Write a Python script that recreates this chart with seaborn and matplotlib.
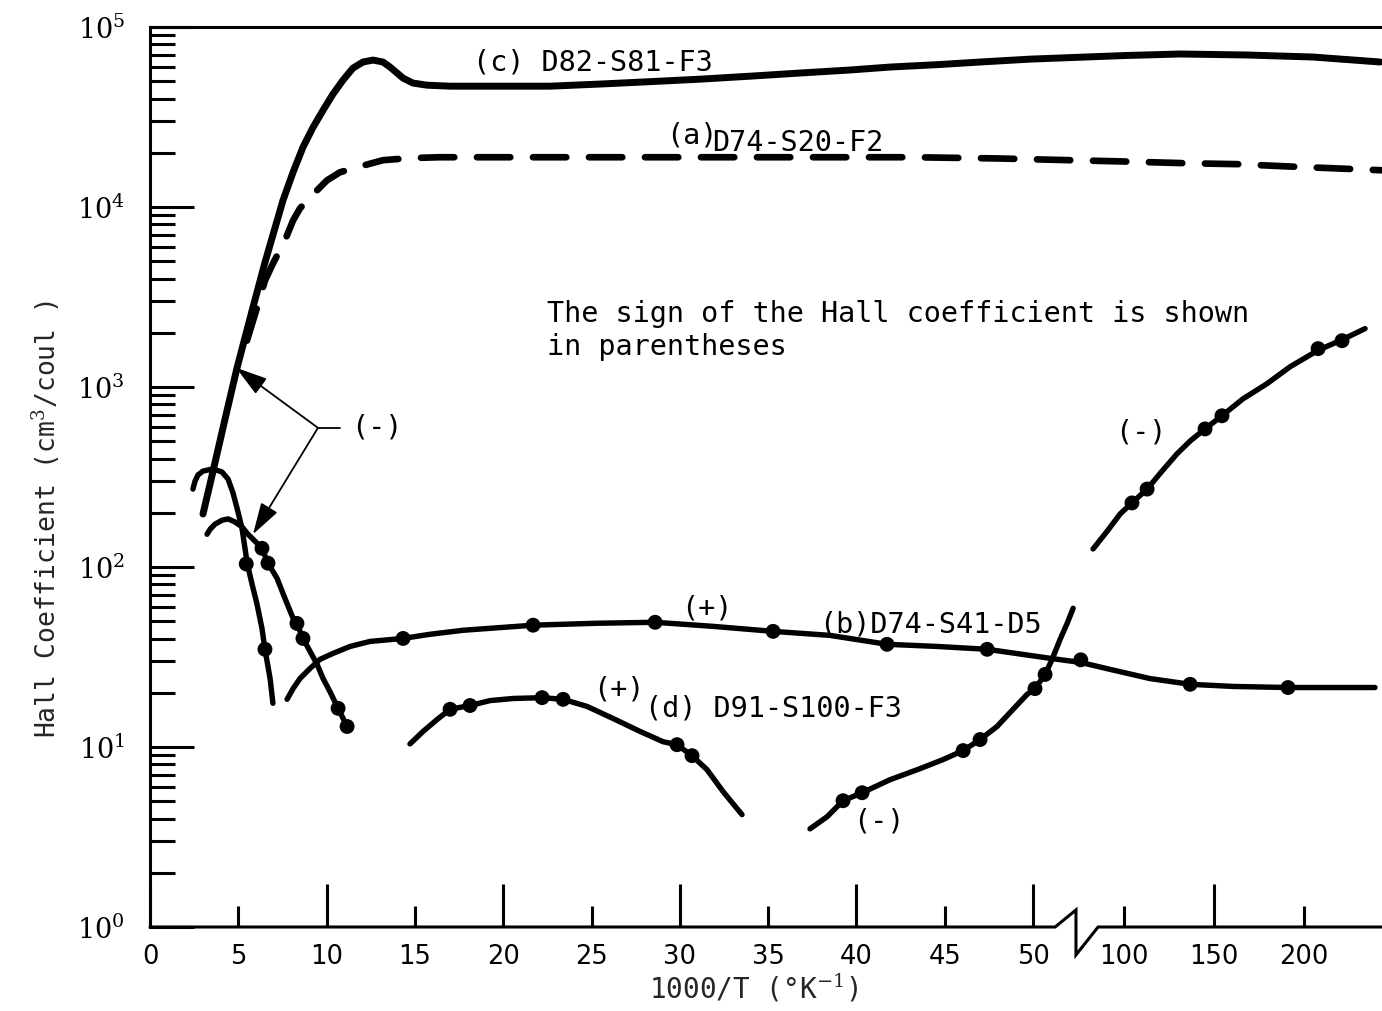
import numpy as np
import matplotlib
matplotlib.use("Agg")
import matplotlib.pyplot as plt
from matplotlib import ticker
from matplotlib.transforms import blended_transform_factory
import seaborn as sns

# ---- Hall coefficient vs 1000/T ----
# (c) D82-S81-F3, solid, no data points
c_x = [3.0, 3.57, 4.25, 4.93, 5.78, 6.51, 7.53, 8.10, 8.66, 9.23, 9.80, 10.36,
       10.93, 11.49, 12.06, 12.63, 13.19, 13.59, 13.99, 14.33, 14.89, 15.69,
       16.99, 19.82, 22.65, 25.48, 28.31, 31.14, 33.97, 36.81, 39.64, 41.90,
       44.73, 47.0, 49.83, 100, 131.1, 168.3, 205, 242.2]
c_y = [197, 341, 665, 1280, 2656, 4920, 10890, 15600, 21480, 27700, 34500,
       42400, 50700, 59100, 63900, 65500, 63900, 59900, 55500, 52000, 48800,
       47500, 46900, 46900, 46900, 48200, 49700, 51300, 53300, 55500, 57700,
       59900, 61900, 63900, 66300, 69400, 70800, 69900, 68100, 63900]

# (a) D74-S20-F2, dashed
a_x = [5.49, 6.06, 6.51, 6.96, 7.64, 8.10, 8.49, 9.23, 10.02, 10.76, 11.89,
       13.19, 14.72, 16.4, 25.5, 36.8, 43.2, 48.1, 100, 135, 163, 191, 217, 243]
a_y = [1810, 2760, 3900, 4850, 6520, 8420, 9820, 11750, 14060, 15600, 16800,
       18200, 18700, 18900, 18900, 18900, 18900, 18600, 17900, 17500, 17300,
       16800, 16400, 16000]

# high-temperature (-) branches
e1_x = [2.43, 2.55, 2.72, 3.00, 3.57, 4.08, 4.42, 4.70, 4.93, 5.21, 5.51,
        5.78, 6.06, 6.34, 6.51, 6.80, 6.96]
e1_y = [271, 300, 325, 341, 351, 337, 308, 258, 212, 164, 104, 80.2, 62.1,
        45.6, 34.9, 24.0, 17.5]
e1_pts_x = [5.45, 6.51]
e1_pts_y = [104, 34.9]

e2_x = [3.23, 3.40, 3.68, 4.08, 4.42, 4.81, 5.21, 5.55, 5.95, 6.34, 6.68,
        7.19, 7.64, 8.10, 8.32, 8.66, 9.06, 9.46, 9.80, 10.19, 10.65, 11.16]
e2_y = [152, 162, 173, 182, 185, 178, 167, 152, 139, 127, 105, 86.7, 67.0,
        51.9, 48.6, 40.1, 34.0, 28.8, 24.0, 20.3, 16.4, 13.0]
e2_pts_x = [6.34, 6.68, 8.32, 8.66, 10.65, 11.16]
e2_pts_y = [127, 105, 48.6, 40.1, 16.4, 13.0]

# (b) D74-S41-D5
b_x = [7.76, 8.10, 8.49, 9.06, 9.63, 10.36, 11.33, 12.46, 14.33, 15.86, 17.72,
       21.69, 25.31, 28.60, 31.88, 35.28, 38.5, 41.73, 44.56, 47.40, 50.96,
       52.7, 92.2, 114.4, 136.7, 160.6, 191.1, 239.4]
b_y = [18.4, 21.1, 24.0, 27.3, 30.7, 33.1, 36.2, 38.6, 40.1, 42.3, 44.5, 47.5,
       48.7, 49.3, 46.8, 43.9, 41.7, 37.2, 36.2, 34.9, 31.1, 29.5, 27.0, 24.0,
       22.3, 21.7, 21.4, 21.4]
b_pts_x = [14.33, 21.69, 28.60, 35.28, 41.73, 47.40, 52.7, 136.7, 191.1]
b_pts_y = [40.1, 47.5, 49.3, 43.9, 37.2, 34.9, 30.5, 22.3, 21.4]

# (d) D91-S100-F3
d_x = [14.72, 15.46, 16.25, 16.99, 18.12, 19.25, 20.55, 22.20, 23.39, 24.75,
       26.22, 27.75, 29.05, 29.84, 30.69, 31.54, 32.45, 33.52]
d_y = [10.4, 12.2, 14.2, 16.2, 17.0, 18.1, 18.6, 18.8, 18.4, 16.8, 14.4, 12.2,
       10.7, 10.3, 8.95, 7.48, 5.65, 4.21]
d_pts_x = [16.99, 18.12, 22.20, 23.39, 29.84, 30.69]
d_pts_y = [16.2, 17.0, 18.8, 18.4, 10.3, 8.95]

# low-temperature (-) branches
f_x = [37.37, 38.34, 39.24, 40.32, 41.90, 43.60, 44.90, 46.04, 47.00, 47.96,
       48.87, 49.66, 50.11, 50.68, 51.08, 51.53, 51.93, 52.27]
f_y = [3.51, 4.10, 5.03, 5.57, 6.58, 7.58, 8.51, 9.55, 11.0, 13.0, 16.2, 19.6,
       21.1, 25.3, 30.7, 39.6, 48.6, 59.0]
f_pts_x = [39.24, 40.32, 46.04, 47.00, 50.11, 50.68]
f_pts_y = [5.03, 5.57, 9.55, 11.0, 21.1, 25.3]

g_x = [82.8, 90.6, 97.8, 104.4, 112.8, 121.1, 129.4, 136.7, 145.0, 154.4,
       166.1, 179.4, 192.2, 207.8, 221.1, 233.9]
g_y = [126, 158, 197, 227, 271, 341, 425, 501, 585, 692, 860, 1043, 1295,
       1600, 1830, 2110]
g_pts_x = [104.4, 112.8, 145.0, 154.4, 207.8, 221.1]
g_pts_y = [227, 271, 585, 692, 1634, 1808]

x_major = [0, 10, 20, 30, 40, 50, 150]
x_minor = [5, 15, 25, 35, 45, 100, 200]

# ---- style ----
sns.set_theme(style="white")
plt.rcParams["font.family"] = ["DejaVu Sans Mono", "Liberation Mono"]
plt.rcParams["mathtext.fontset"] = "dejavuserif"
plt.rcParams["text.color"] = "black"

# broken x axis: linear up to 53, a short gap, then a compressed linear part
BRK_V = [-1000.0, 0.0, 53.0, 82.5, 1000.0]
BRK_U = [-17660.0, 0.0, 936.0, 942.5, 942.5 + 917.5 * 1.8]


def fwd(v):
    return np.interp(v, BRK_V, BRK_U)


def inv(u):
    return np.interp(u, BRK_U, BRK_V)


fig = plt.figure(figsize=(13.82, 10.11), dpi=100)
ax = fig.add_axes([150 / 1382, 84 / 1011, 1232 / 1382, 900 / 1011])
ax.set_xscale("function", functions=(fwd, inv))
ax.set_yscale("log")
ax.set_xlim(0, 243.3)
ax.set_ylim(1, 1e5)


def curve(x, y, lw, **kw):
    sns.lineplot(x=x, y=y, ax=ax, color="black", linewidth=lw, sort=False,
                 estimator=None, legend=False, **kw)
    ln = ax.lines[-1]
    ln.set_solid_capstyle("round")
    ln.set_solid_joinstyle("round")
    return ln


def dots(x, y):
    sns.scatterplot(x=x, y=y, ax=ax, color="black", s=115, edgecolor="none",
                    zorder=4, legend=False)


curve(c_x, c_y, 5.0)
la = curve(a_x, a_y, 4.8)
la.set_dashes((5.0, 3.4))
la.set_dash_capstyle("round")

for xs, ys, px, py in [(e1_x, e1_y, e1_pts_x, e1_pts_y),
                       (e2_x, e2_y, e2_pts_x, e2_pts_y),
                       (b_x, b_y, b_pts_x, b_pts_y),
                       (d_x, d_y, d_pts_x, d_pts_y),
                       (f_x, f_y, f_pts_x, f_pts_y),
                       (g_x, g_y, g_pts_x, g_pts_y)]:
    curve(xs, ys, 3.9)
    dots(px, py)

# ---- frame ----
for side in ("right", "bottom"):
    ax.spines[side].set_visible(False)
for side in ("left", "top"):
    ax.spines[side].set_linewidth(2.2)
    ax.spines[side].set_color("black")

# bottom axis line with a break mark
trans = blended_transform_factory(ax.transData, ax.transAxes)
ax.plot([0, 51.25, 52.43, 52.43, 85.56, 243.3],
        [0, 0, 0.019, -0.031, 0, 0], transform=trans, clip_on=False,
        color="black", lw=2.2, solid_joinstyle="miter", zorder=5)

# ---- ticks ----
ax.xaxis.set_major_locator(ticker.FixedLocator(x_major))
ax.xaxis.set_minor_locator(ticker.FixedLocator(x_minor))
fmt = ticker.FuncFormatter(lambda v, p: f"{v:g}")
ax.xaxis.set_major_formatter(fmt)
ax.xaxis.set_minor_formatter(fmt)
ax.tick_params(axis="x", which="major", direction="in", length=31, width=2.2,
               pad=12, labelsize=18.5, bottom=True, top=False, color="black",
               labelcolor="black")
ax.tick_params(axis="x", which="minor", direction="in", length=15, width=2.2,
               pad=12, labelsize=18.5, bottom=True, top=False, color="black",
               labelcolor="black")

ax.yaxis.set_major_locator(ticker.LogLocator(base=10, numticks=10))
ax.yaxis.set_minor_locator(ticker.LogLocator(base=10, subs=range(2, 10), numticks=20))
ax.yaxis.set_major_formatter(ticker.FuncFormatter(
    lambda v, p: r"$10^{%d}$" % int(round(np.log10(v)))))
ax.yaxis.set_minor_formatter(ticker.NullFormatter())
ax.tick_params(axis="y", which="major", direction="in", length=32, width=2.2,
               pad=18, labelsize=19.5, left=True, right=False, color="black",
               labelcolor="black")
ax.tick_params(axis="y", which="minor", direction="in", length=18, width=2.2,
               left=True, right=False, color="black")
plt.setp(ax.get_xticklabels(which="both"), fontfamily="DejaVu Sans")

# ---- labels ----
ax.set_xlabel("1000/T (°K$^{-1}$)", fontsize=20)
ax.xaxis.set_label_coords(0.49, -0.05)
ax.set_ylabel("Hall Coefficient (cm$^3$/coul )", fontsize=19)
ax.yaxis.set_label_coords(-0.071, 0.453)

tk = dict(fontsize=20.5, ha="left", va="center", color="black")
ax.text(18.3, 63800, "(c) D82-S81-F3", **tk)
ax.text(29.2, 25000, "(a)", **tk)
ax.text(31.8, 22600, "D74-S20-F2", **tk)
ax.text(37.9, 48.0, "(b)D74-S41-D5", **tk)
ax.text(30.1, 59.0, "(+)", **tk)
ax.text(25.1, 20.9, "(+)", **tk)
ax.text(28.0, 16.4, "(d) D91-S100-F3", **tk)
ax.text(39.8, 3.84, "(-)", **tk)
ax.text(95, 556, "(-)", **tk)
ax.text(11.4, 593, "(-)", **tk)
ax.text(22.5, 2056, "The sign of the Hall coefficient is shown\nin parentheses",
        linespacing=1.2, **tk)

# pointer from the (-) note to the two high-temperature branches
arrow = dict(arrowstyle="-|>,head_length=1.4,head_width=0.42", color="black",
             lw=1.3, shrinkA=0, shrinkB=0, mutation_scale=14)
ax.annotate("", xy=(4.87, 1280), xytext=(9.51, 593), arrowprops=arrow)
ax.annotate("", xy=(5.83, 152), xytext=(9.51, 593), arrowprops=arrow)
ax.plot([9.51, 10.76], [593, 593], color="black", lw=1.3)

fig.savefig("out.png", dpi=100, facecolor="white")
